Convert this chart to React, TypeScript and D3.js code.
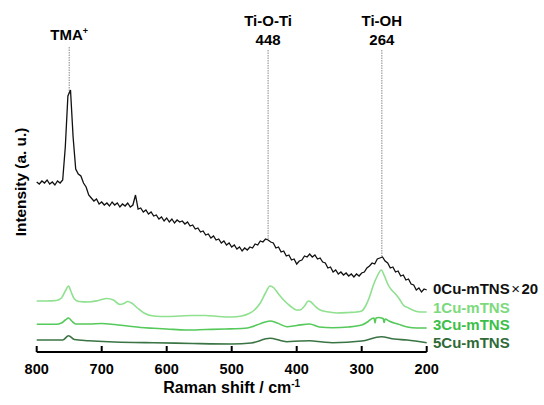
import React from "react";
import * as d3 from "d3";

// Raman shift grid (cm-1) for the noisy 0Cu spectrum
const shifts0 = d3.range(800, 199, -4);
// 0Cu-mTNS ×20 intensity (a.u.)
const cu0Values = [
  170, 168, 171, 169, 172, 168, 170, 167, 171, 169, 172, 205, 256, 262, 215, 183, 178, 176, 169, 165,
  157, 154, 151, 153, 148, 150, 147, 149, 146, 150, 147, 149, 145, 148, 146, 149, 145, 147, 157, 143,
  144, 140, 142, 138, 140, 136, 137, 133, 135, 131, 134, 130, 133, 129, 132, 130, 131, 128, 130, 126,
  127, 123, 124, 120, 121, 117, 118, 114, 116, 112, 113, 109, 111, 107, 109, 105, 107, 103, 105, 101,
  104, 102, 105, 104, 108, 107, 111, 110, 113, 112, 110, 109, 104, 105, 100, 101, 96, 97, 92, 93,
  88, 91, 92, 96, 95, 98, 95, 97, 93, 94, 90, 89, 84, 85, 80, 82, 78, 80, 77, 79,
  76, 78, 75, 78, 76, 79, 80, 84, 86, 89, 88, 93, 94, 95, 91, 89, 84, 85, 80, 81,
  76, 77, 72, 73, 68, 67, 62, 64, 60, 63, 62,
];

const cu1Shifts = [800, 785, 770, 762, 756, 751, 747, 742, 735, 720, 705, 692, 682, 672, 666, 660, 654, 645, 635, 620, 600, 580, 560, 540, 520, 500, 485, 475, 465, 456, 448, 441, 435, 428, 420, 410, 400, 395, 388, 382, 378, 372, 364, 350, 338, 320, 308, 300, 294, 288, 282, 276, 270, 265, 260, 254, 248, 242, 236, 228, 218, 210, 200];
const cu1Values = [51, 51, 51.5, 54, 61, 66, 60, 53, 50.5, 50, 51.5, 53.5, 52, 47.5, 48.5, 50.5, 49, 44, 39, 36, 35.5, 36, 36.5, 36.5, 35.5, 35, 36, 38, 42, 49, 59, 66, 64, 58, 52, 46, 42, 42, 46, 51, 50, 46, 42, 40, 39, 39.5, 40, 41, 46, 55, 67, 76, 82, 76, 68, 62, 58, 53, 47, 44, 41, 40, 40];

const cu3Shifts = [800, 770, 762, 756, 751, 746, 740, 720, 700, 680, 660, 640, 620, 600, 570, 540, 510, 480, 470, 455, 441, 430, 415, 400, 380, 365, 345, 320, 300, 290, 284, 281, 279.5, 278, 274, 270, 267, 265.5, 264, 258, 250, 240, 230, 215, 200];
const cu3Values = [27.7, 27.7, 29, 32, 34, 31, 28, 28, 28.5, 27.5, 26, 24.5, 23.7, 23, 22, 22.5, 23, 23.7, 25, 28.5, 31, 29, 25.3, 26.5, 28, 25, 24.3, 25, 27, 30.5, 33.5, 34, 29, 34, 34.5, 34, 33.5, 29.5, 33, 31, 29, 27, 25, 24, 24];

const cu5Shifts = [800, 760, 751, 742, 720, 650, 620, 560, 500, 470, 441, 425, 415, 395, 380, 360, 345, 300, 270, 250, 230, 200];
const cu5Values = [12, 12, 16.3, 12.5, 11.3, 9.5, 9.3, 8.5, 8, 9, 13.7, 11.5, 10.3, 11, 11.3, 10, 9.3, 11, 15.3, 13, 12, 9.3];

const xTicks = [800, 700, 600, 500, 400, 300, 200];
const seriesLabels = ["0Cu-mTNS", "1Cu-mTNS", "3Cu-mTNS", "5Cu-mTNS"];
const seriesColors = ["#111111", "#8fe08f", "#55c95a", "#3a7444"];
const labelColors = ["#111111", "#7cda7c", "#3cbf48", "#2f6a37"];
const peakShifts = [750, 444, 269];

const FONT = "'Liberation Sans', Arial, Helvetica, sans-serif";

export default function App() {
  const x = d3.scaleLinear().domain([800, 200]).range([36.7, 426.7]);
  const y = d3.scaleLinear().domain([0, 280]).range([352, 72]);

  const toPts = (xs: number[], vs: number[]) => xs.map((s, i) => [s, vs[i]] as [number, number]);
  const rough = d3.line<[number, number]>().x((d) => x(d[0])).y((d) => y(d[1]));
  const smoothLine = d3
    .line<[number, number]>()
    .x((d) => x(d[0]))
    .y((d) => y(d[1]))
    .curve(d3.curveMonotoneX);

  const s0 = toPts(shifts0, cu0Values);
  const s1 = toPts(cu1Shifts, cu1Values);
  const s3 = toPts(cu3Shifts, cu3Values);
  const s5 = toPts(cu5Shifts, cu5Values);

  const peakTop = (w: number) => {
    let best = s0[0];
    for (const p of s0) if (Math.abs(p[0] - w) < Math.abs(best[0] - w)) best = p;
    return y(best[1]) - 2;
  };

  const legendY = [294, 313, 330, 348];

  return (
    <svg width={544} height={405} style={{ position: "absolute", left: 0, top: 0 }} fontFamily={FONT}>
      <rect width={544} height={405} fill="#fff" />
      {/* peak marker dotted lines */}
      <line x1={x(peakShifts[0])} x2={x(peakShifts[0])} y1={47} y2={peakTop(peakShifts[0])} stroke="#888" strokeWidth={1} strokeDasharray="1.5,1" />
      <line x1={x(peakShifts[1])} x2={x(peakShifts[1])} y1={50} y2={240} stroke="#888" strokeWidth={1} strokeDasharray="1.5,1" />
      <line x1={x(peakShifts[2])} x2={x(peakShifts[2])} y1={50} y2={258} stroke="#888" strokeWidth={1} strokeDasharray="1.5,1" />

      {/* spectra */}
      <path d={rough(s0) || ""} fill="none" stroke={seriesColors[0]} strokeWidth={1.3} />
      <path d={smoothLine(s1) || ""} fill="none" stroke={seriesColors[1]} strokeWidth={1.6} />
      <path d={smoothLine(s3) || ""} fill="none" stroke={seriesColors[2]} strokeWidth={1.6} />
      <path d={smoothLine(s5) || ""} fill="none" stroke={seriesColors[3]} strokeWidth={1.6} />

      {/* annotations */}
      <text x={x(peakShifts[0])} y={40} textAnchor="middle" fontWeight="bold" fontSize={15}>
        TMA<tspan fontSize={9} dy={-6}>+</tspan>
      </text>
      <text x={x(peakShifts[1])} y={26} textAnchor="middle" fontWeight="bold" fontSize={15}>Ti-O-Ti</text>
      <text x={x(peakShifts[1])} y={45} textAnchor="middle" fontWeight="bold" fontSize={15}>448</text>
      <text x={x(peakShifts[2])} y={26} textAnchor="middle" fontWeight="bold" fontSize={15}>Ti-OH</text>
      <text x={x(peakShifts[2])} y={45} textAnchor="middle" fontWeight="bold" fontSize={15}>264</text>

      {/* legend labels */}
      {seriesLabels.map((l, i) => (
        <text key={l} x={433} y={legendY[i]} fontWeight="bold" fontSize={15} fill={labelColors[i]}>
          {l}
          {i === 0 ? (
            <>
              <tspan fontWeight="normal" fontSize={15} dx={1.5}>×</tspan>
              <tspan dx={1.5}>20</tspan>
            </>
          ) : null}
        </text>
      ))}

      {/* x axis */}
      <line x1={x(800)} x2={x(200)} y1={352} y2={352} stroke="#000" strokeWidth={2} />
      {xTicks.map((t) => (
        <g key={t}>
          <line x1={x(t)} x2={x(t)} y1={352} y2={346} stroke="#000" strokeWidth={2} />
          <text x={x(t)} y={374} textAnchor="middle" fontWeight="bold" fontSize={14.5}>{t}</text>
        </g>
      ))}
      <text x={(x(800) + x(200)) / 2} y={393} textAnchor="middle" fontWeight="bold" fontSize={16}>
        Raman shift / cm<tspan fontSize={10} dy={-6}>-1</tspan>
      </text>

      {/* y label */}
      <text transform="translate(26,182) rotate(-90)" textAnchor="middle" fontWeight="bold" fontSize={15.4}>
        Intensity (a. u.)
      </text>
    </svg>
  );
}
